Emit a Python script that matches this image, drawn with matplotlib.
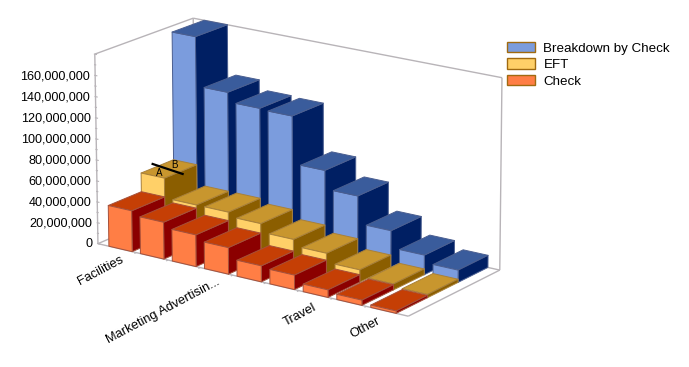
import numpy as np
import matplotlib
matplotlib.use("Agg")
import matplotlib.pyplot as plt
from matplotlib.patches import Patch
from mpl_toolkits.mplot3d import proj3d
from mpl_toolkits.mplot3d.art3d import Line3DCollection

plt.rcParams['font.family'] = ['Liberation Sans', 'DejaVu Sans']

# ---- data ----
categories = ["Facilities", "", "", "Marketing Advertisin...", "", "", "Travel", "", "Other"]
check = [39e6, 35e6, 30e6, 25e6, 15e6, 13.5e6, 7e6, 4.8e6, 2.2e6]
eft = [57e6, 38e6, 38e6, 34e6, 26e6, 20e6, 11.5e6, 5.5e6, 3e6]
breakdown = [180e6, 133e6, 124e6, 123e6, 78e6, 60.5e6, 34.5e6, 18.5e6, 11.5e6]
series_names = ["Breakdown by Check", "EFT", "Check"]
z_ticks = [0, 20e6, 40e6, 60e6, 80e6, 100e6, 120e6, 140e6, 160e6]

# ---- styles ----
FRONT = ["#7B9CDD", "#FFD068", "#FF7E45"]
TOP = ["#3A5C9C", "#C8962E", "#C53F05"]
SIDE = ["#001F63", "#8B5E00", "#8B0000"]
EDGE = ["#4A5E90", "#A8803A", "#A5503A"]
WALL = "#B8B4B8"
W, H = 689, 367
XLO, XHI = -0.72, 8.72
YLO, YHI = -0.5, 2.5
ZLO, ZHI = 0.0, 180e6
BAR_W, BAR_D = 0.74, 1.0
LABEL_NUDGE = {"Travel": (-3, -2), "Other": (-7, 0)}

# camera calibration: cube corners (u, v, w) -> figure pixels
corners = [((0, 0, 0), (98, 243)), ((1, 0, 0), (408, 317)), ((1, 1, 0), (500, 269)),
           ((0, 1, 0), (195, 203)), ((0, 0, 1), (95, 54)), ((0, 1, 1), (193, 18)),
           ((1, 1, 1), (502, 78))]
A = []
for (u, v, w_), (px, py) in corners:
    py = H - py
    A.append([u, v, w_, 1, 0, 0, 0, 0, -px*u, -px*v, -px*w_, -px])
    A.append([0, 0, 0, 0, u, v, w_, 1, -py*u, -py*v, -py*w_, -py])
P = np.linalg.svd(np.array(A))[2][-1].reshape(3, 4)
P /= P[2, 3]
S = np.array([[1/(XHI-XLO), 0, 0, -XLO/(XHI-XLO)],
              [0, 1/(YHI-YLO), 0, -YLO/(YHI-YLO)],
              [0, 0, 1/(ZHI-ZLO), -ZLO/(ZHI-ZLO)],
              [0, 0, 0, 1]])
PM = P @ S
depth = np.array([-1, 1, -1, 0.5]) @ S
M = np.vstack([PM[0], PM[1], depth, PM[2]])

fig = plt.figure(figsize=(W/100, H/100), dpi=100, facecolor="white")
ax = fig.add_axes([0, 0, 1, 1], projection="3d", computed_zorder=False)
ax.apply_aspect = lambda position=None: None
ax.get_proj = lambda: M
ax.M = M
ax.set_axis_off()
ax.viewLim.intervalx = (0, W)
ax.viewLim.intervaly = (0, H)


def to_fig(x, y, z):
    tx, ty, _ = proj3d.proj_transform(x, y, z, M)
    return float(tx)/W, float(ty)/H


def draw_segments(segs, color, lw, zorder):
    ax.add_collection(Line3DCollection(segs, colors=color, linewidths=lw, zorder=zorder))


# walls
wall = [
    [(XLO, YLO, ZLO), (XHI, YLO, ZLO)], [(XHI, YLO, ZLO), (XHI, YHI, ZLO)],
    [(XHI, YHI, ZLO), (XLO, YHI, ZLO)], [(XLO, YHI, ZLO), (XLO, YLO, ZLO)],
    [(XLO, YLO, ZLO), (XLO, YLO, ZHI)], [(XLO, YLO, ZHI), (XLO, YHI, ZHI)],
    [(XLO, YHI, ZHI), (XLO, YHI, ZLO)], [(XLO, YHI, ZHI), (XHI, YHI, ZHI)],
    [(XHI, YHI, ZHI), (XHI, YHI, ZLO)],
]
draw_segments(wall, WALL, 1.0, 1)

# value axis ticks
ticks = []
for i, v in enumerate(np.arange(0, 180e6 + 1, 10e6)):
    ticks.append([(XLO - 0.03, YLO, v), (XLO + (0.07 if i % 2 == 0 else 0.04), YLO, v)])
draw_segments(ticks, WALL, 0.8, 1)
for v in z_ticks:
    fx, fy = to_fig(XLO - 0.17, YLO, v)
    fig.text(fx, fy - 2/H, f"{int(v):,}", ha="right", va="center", fontsize=9.1, color="black")

# category axis
draw_segments([[(b, YLO, 0), (b, YLO - 0.06, 0)] for b in np.arange(0.5, 8, 1.0)], WALL, 0.8, 1)
for i, lab in enumerate(categories):
    if lab:
        fx, fy = to_fig(i + 0.2, YLO - 0.2, 0)
        nx, ny = LABEL_NUDGE.get(lab, (0, 0))
        fig.text(fx + nx/W, fy + ny/H, lab, ha="right", va="top", rotation=28, rotation_mode="anchor",
                 fontsize=9.3, color="black")

# bars: back row first, left to right
order = 10
for row, vals in ((2, breakdown), (1, eft), (0, check)):
    k = 2 - row
    # faces: -Z, +Z, -Y, +Y, -X, +X
    faces = ["none", TOP[k], FRONT[k], "none", "none", SIDE[k]]
    edges = ["none", EDGE[k], EDGE[k], "none", "none", EDGE[k]]
    for i, v in enumerate(vals):
        ax.bar3d(i - BAR_W/2, row - BAR_D/2, 0, BAR_W, BAR_D, v, color=faces, edgecolors=edges,
                 linewidth=0.7, shade=False, zorder=order)
        order += 1

# A/B marker on the first EFT bar
ztop = eft[0]
draw_segments([[(-0.63, 1.07, ztop), (0.58, 0.89, ztop)]], "black", 1.6, order + 1)
fx, fy = to_fig(-0.02, 0.75, ztop)
fig.text(fx - 1/W, fy - 1/H, "A", ha="center", va="center", fontsize=7, color="black", zorder=50)
fx, fy = to_fig(-0.12, 1.3, ztop)
fig.text(fx, fy - 1/H, "B", ha="center", va="center", fontsize=7, color="black", zorder=50)

# legend
handles = [Patch(facecolor=FRONT[k], edgecolor="#A06A10", linewidth=1.0) for k in range(3)]
fig.legend(handles, series_names, loc="upper left", bbox_to_anchor=(506.5/W, 1 - 42/H), frameon=False,
           fontsize=9.6, handlelength=2.15, handleheight=0.83, handletextpad=0.62, labelspacing=0.27,
           borderpad=0, borderaxespad=0)

fig.savefig("out.png", dpi=100, facecolor="white")
